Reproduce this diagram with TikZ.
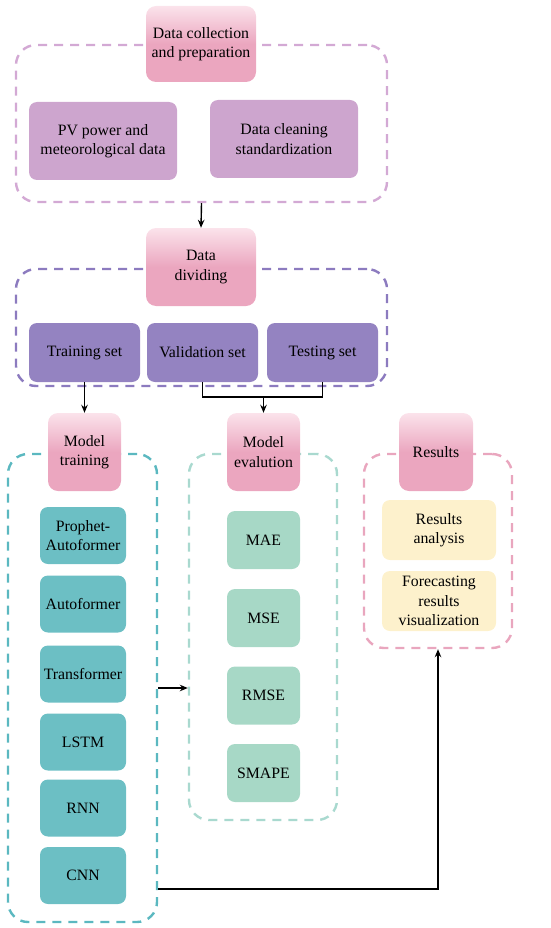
\documentclass[tikz,border=0pt]{standalone}
\usepackage{fontspec}
\setmainfont{Liberation Serif}
\usetikzlibrary{arrows.meta}
\definecolor{hdrpink}{HTML}{EBA6BF}
\definecolor{hdrtop}{HTML}{FBE3EB}
\definecolor{prepbox}{HTML}{CDA5CE}
\definecolor{prepline}{HTML}{D3A9D4}
\definecolor{setbox}{HTML}{9483C1}
\definecolor{setline}{HTML}{8C7BBF}
\definecolor{modelbox}{HTML}{6CBFC4}
\definecolor{modelline}{HTML}{5BB8C0}
\definecolor{metricbox}{HTML}{A7D8C6}
\definecolor{metricline}{HTML}{A9D9CF}
\definecolor{resultbox}{HTML}{FDF1CC}
\definecolor{resultline}{HTML}{E9A6BE}

\begin{document}
\begin{tikzpicture}[x=1pt,y=-1pt,
    every node/.style={font=\fontsize{15.8}{19.5}\selectfont,align=center,text=black},
    group/.style={draw=#1,line width=2.4pt,dash pattern=on 9pt off 7pt,rounded corners=20pt},
    header/.style={rounded corners=10pt,top color=hdrtop,bottom color=hdrpink,middle color=hdrpink},
    inbox/.style={fill=#1,rounded corners=8pt,inner sep=1pt},
    flow/.style={-{Stealth[length=8pt,width=6.5pt]},line width=1.4pt}]
      \useasboundingbox (0,0) rectangle (550,928);
      % dashed groups
      \node[group=prepline,minimum width=371pt,minimum height=157pt] (prep) at (201.5,123.5) {};
      \node[group=setline,minimum width=371pt,minimum height=117pt] (divide) at (201.5,327.5) {};
      \node[group=modelline,minimum width=149pt,minimum height=468pt] (train) at (82.5,688) {};
      \node[group=metricline,minimum width=148pt,minimum height=366pt] (eval) at (263,637) {};
      \node[group=resultline,minimum width=148pt,minimum height=194pt] (result) at (438,551) {};
      % headers
      \node[header,minimum width=110pt,minimum height=76pt] (hprep) at (201,44) {Data collection\\and preparation};
      \node[header,minimum width=110pt,minimum height=78pt] (hdivide) at (201,267) {Data\\dividing};
      \node[header,minimum width=73pt,minimum height=78pt] (htrain) at (84.5,452) {Model\\training};
      \node[header,minimum width=73pt,minimum height=78pt] (heval) at (263.5,452) {Model\\evalution};
      \node[header,minimum width=74pt,minimum height=78pt] (hresult) at (436,452) {Results};
      % data preparation
      \node[inbox=prepbox,minimum width=148pt,minimum height=78pt] (pv) at (103,141) {PV power and\\meteorological data};
      \node[inbox=prepbox,minimum width=148pt,minimum height=78pt] (clean) at (284,139) {Data cleaning\\standardization};
      % data sets
      \node[inbox=setbox,minimum width=111pt,minimum height=59pt] (trainset) at (84.5,352.5) {Training set};
      \node[inbox=setbox,minimum width=111pt,minimum height=59pt] (validset) at (202.5,352.5) {Validation set};
      \node[inbox=setbox,minimum width=111pt,minimum height=59pt] (testset) at (322.5,352.5) {Testing set};
      % models
      \foreach \name/\y/\txt in {prophet/535.5/{Prophet-\\Autoformer},auto/604/Autoformer,trans/674/Transformer,lstm/742/LSTM,rnn/808/RNN,cnn/875.5/CNN}{
        \node[inbox=modelbox,minimum width=86pt,minimum height=57pt] (\name) at (83,\y) {\txt};
      }
      % metrics
      \foreach \name/\y in {MAE/540,MSE/618,RMSE/695.5,SMAPE/773}{
        \node[inbox=metricbox,minimum width=73pt,minimum height=58pt] (\name) at (263.5,\y) {\name};
      }
      % results
      \node[inbox=resultbox,minimum width=114pt,minimum height=60pt] (analysis) at (439,530) {Results\\analysis};
      \node[inbox=resultbox,minimum width=114pt,minimum height=60pt] (visual) at (439,601) {Forecasting\\results\\visualization};
      % connectors
      \coordinate (split) at (263.5,397);
      \draw[flow] (prep.south) -- (hdivide.north);
      \draw[flow] (trainset.south) -- (htrain.north);
      \draw[line width=1.4pt] (validset.south) |- (split) -| (testset.south);
      \draw[flow] (split) -- (heval.north);
      \draw[flow] (train.east) -- (train.east -| eval.west);
      \draw[flow] ([yshift=-13.5pt]cnn.east -| train.east) -| (result.south);
    \end{tikzpicture}
\end{document}
